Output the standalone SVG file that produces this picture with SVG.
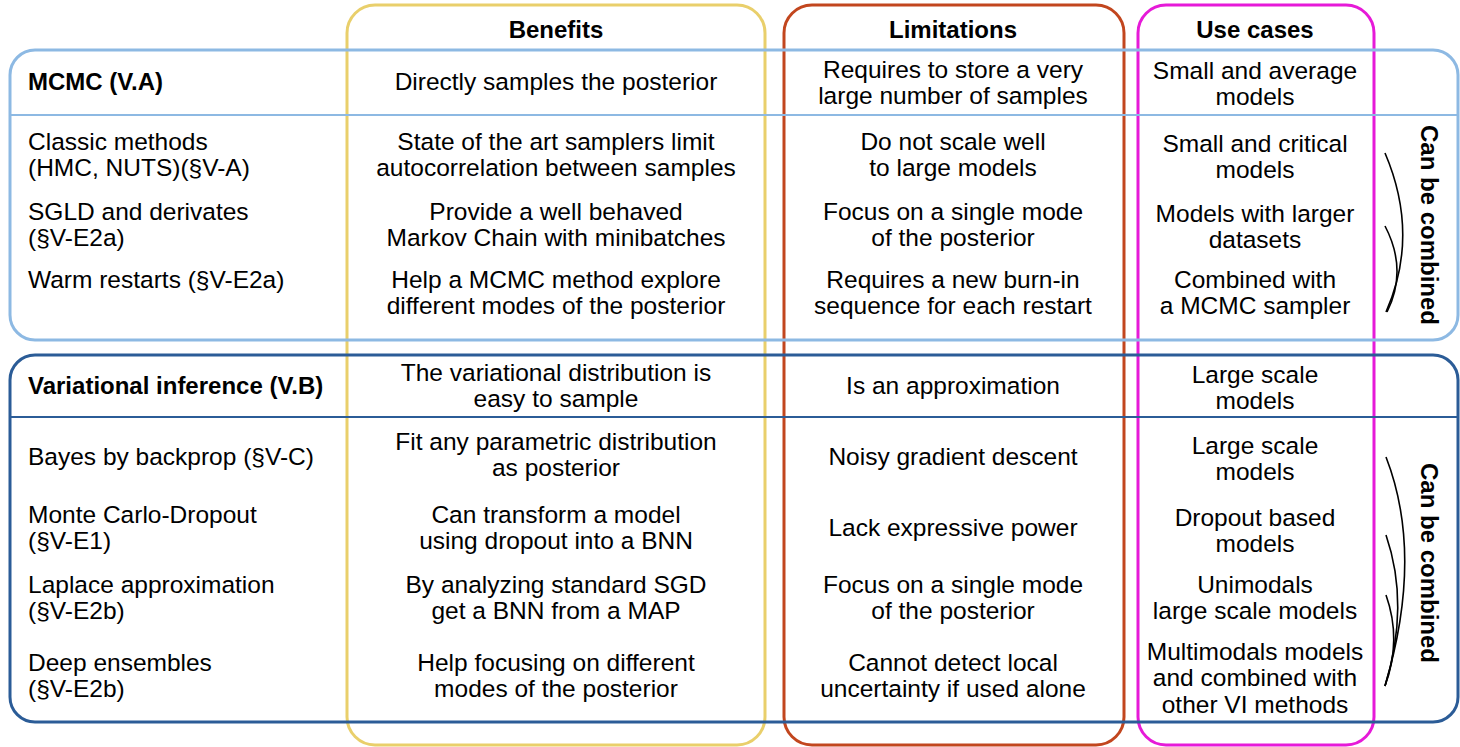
<svg xmlns="http://www.w3.org/2000/svg" width="1460" height="747" viewBox="0 0 1460 747">
<style>
text{font-family:"Liberation Sans",Arial,sans-serif;font-size:24.5px;fill:#000}
.c{text-anchor:middle}
.b{font-weight:bold;font-size:24px}
.box{fill:none;stroke-width:3}
.arc{fill:none;stroke:#000;stroke-width:1.6}
</style>
<rect width="1460" height="747" fill="#fff"/>
<g id="col-benefits"><rect class="box" x="347" y="5" width="418" height="740" rx="28" stroke="#e9cf6b"/><text class="c b" x="556" y="38">Benefits</text></g>
<g id="col-limitations"><rect class="box" x="784" y="5" width="340" height="740" rx="28" stroke="#c2461e"/><text class="c b" x="953" y="38">Limitations</text></g>
<g id="col-usecases"><rect class="box" x="1138" y="5" width="236" height="740" rx="28" stroke="#e61ad8"/><text class="c b" x="1255" y="38">Use cases</text></g>
<g id="mcmc">
<rect class="box" x="10" y="50" width="1448" height="290" rx="25" stroke="#8db9e3"/>
<line x1="10" y1="115" x2="1458" y2="115" stroke="#8db9e3" stroke-width="2"/>
<text class="b" x="28" y="90">MCMC (V.A)</text>
<text class="c" x="556" y="90">Directly samples the posterior</text>
<text class="c" x="953" y="78">Requires to store a very</text>
<text class="c" x="953" y="104">large number of samples</text>
<text class="c" x="1255" y="79">Small and average</text>
<text class="c" x="1255" y="105">models</text>
</g>
<g id="classic">
<text x="28" y="150">Classic methods</text>
<text x="28" y="176">(HMC, NUTS)(§V-A)</text>
<text class="c" x="556" y="150">State of the art samplers limit</text>
<text class="c" x="556" y="176">autocorrelation between samples</text>
<text class="c" x="953" y="150">Do not scale well</text>
<text class="c" x="953" y="176">to large models</text>
<text class="c" x="1255" y="152">Small and critical</text>
<text class="c" x="1255" y="178">models</text>
</g>
<g id="sgld">
<text x="28" y="220">SGLD and derivates</text>
<text x="28" y="246">(§V-E2a)</text>
<text class="c" x="556" y="220">Provide a well behaved</text>
<text class="c" x="556" y="246">Markov Chain with minibatches</text>
<text class="c" x="953" y="220">Focus on a single mode</text>
<text class="c" x="953" y="246">of the posterior</text>
<text class="c" x="1255" y="222">Models with larger</text>
<text class="c" x="1255" y="248">datasets</text>
</g>
<g id="warm">
<text x="28" y="288">Warm restarts (§V-E2a)</text>
<text class="c" x="556" y="288">Help a MCMC method explore</text>
<text class="c" x="556" y="314">different modes of the posterior</text>
<text class="c" x="953" y="288">Requires a new burn-in</text>
<text class="c" x="953" y="314">sequence for each restart</text>
<text class="c" x="1255" y="288">Combined with</text>
<text class="c" x="1255" y="314">a MCMC sampler</text>
</g>
<g id="vi">
<rect class="box" x="10" y="355" width="1448" height="367" rx="25" stroke="#2b5c97"/>
<line x1="10" y1="417" x2="1458" y2="417" stroke="#2b5c97" stroke-width="2"/>
<text class="b" x="28" y="394">Variational inference (V.B)</text>
<text class="c" x="556" y="381">The variational distribution is</text>
<text class="c" x="556" y="407">easy to sample</text>
<text class="c" x="953" y="394">Is an approximation</text>
<text class="c" x="1255" y="383">Large scale</text>
<text class="c" x="1255" y="409">models</text>
</g>
<g id="bayes">
<text x="28" y="465">Bayes by backprop (§V-C)</text>
<text class="c" x="556" y="450">Fit any parametric distribution</text>
<text class="c" x="556" y="476">as posterior</text>
<text class="c" x="953" y="465">Noisy gradient descent</text>
<text class="c" x="1255" y="454">Large scale</text>
<text class="c" x="1255" y="480">models</text>
</g>
<g id="mcdropout">
<text x="28" y="523">Monte Carlo-Dropout</text>
<text x="28" y="549">(§V-E1)</text>
<text class="c" x="556" y="523">Can transform a model</text>
<text class="c" x="556" y="549">using dropout into a BNN</text>
<text class="c" x="953" y="536">Lack expressive power</text>
<text class="c" x="1255" y="526">Dropout based</text>
<text class="c" x="1255" y="552">models</text>
</g>
<g id="laplace">
<text x="28" y="593">Laplace approximation</text>
<text x="28" y="619">(§V-E2b)</text>
<text class="c" x="556" y="593">By analyzing standard SGD</text>
<text class="c" x="556" y="619">get a BNN from a MAP</text>
<text class="c" x="953" y="593">Focus on a single mode</text>
<text class="c" x="953" y="619">of the posterior</text>
<text class="c" x="1255" y="593">Unimodals</text>
<text class="c" x="1255" y="619">large scale models</text>
</g>
<g id="ensembles">
<text x="28" y="671">Deep ensembles</text>
<text x="28" y="697">(§V-E2b)</text>
<text class="c" x="556" y="671">Help focusing on different</text>
<text class="c" x="556" y="697">modes of the posterior</text>
<text class="c" x="953" y="671">Cannot detect local</text>
<text class="c" x="953" y="697">uncertainty if used alone</text>
<text class="c" x="1255" y="660">Multimodals models</text>
<text class="c" x="1255" y="686">and combined with</text>
<text class="c" x="1255" y="713">other VI methods</text>
</g>
<g id="combined-mcmc">
<text class="c b" transform="translate(1421 225) rotate(90)">Can be combined</text>
</g>
<g id="combined-vi">
<text class="c b" transform="translate(1421 563) rotate(90)">Can be combined</text>
</g>
<g id="connectors">
<path class="arc" d="M1385 153 Q1420 235 1386 312"/>
<path class="arc" d="M1385 226 Q1408 270 1387 312"/>
<path class="arc" d="M1386 457 Q1424 555 1385 686"/>
<path class="arc" d="M1386 535 Q1410 605 1385 686"/>
<path class="arc" d="M1386 595 Q1402 640 1385 686"/>
</g>
</svg>
